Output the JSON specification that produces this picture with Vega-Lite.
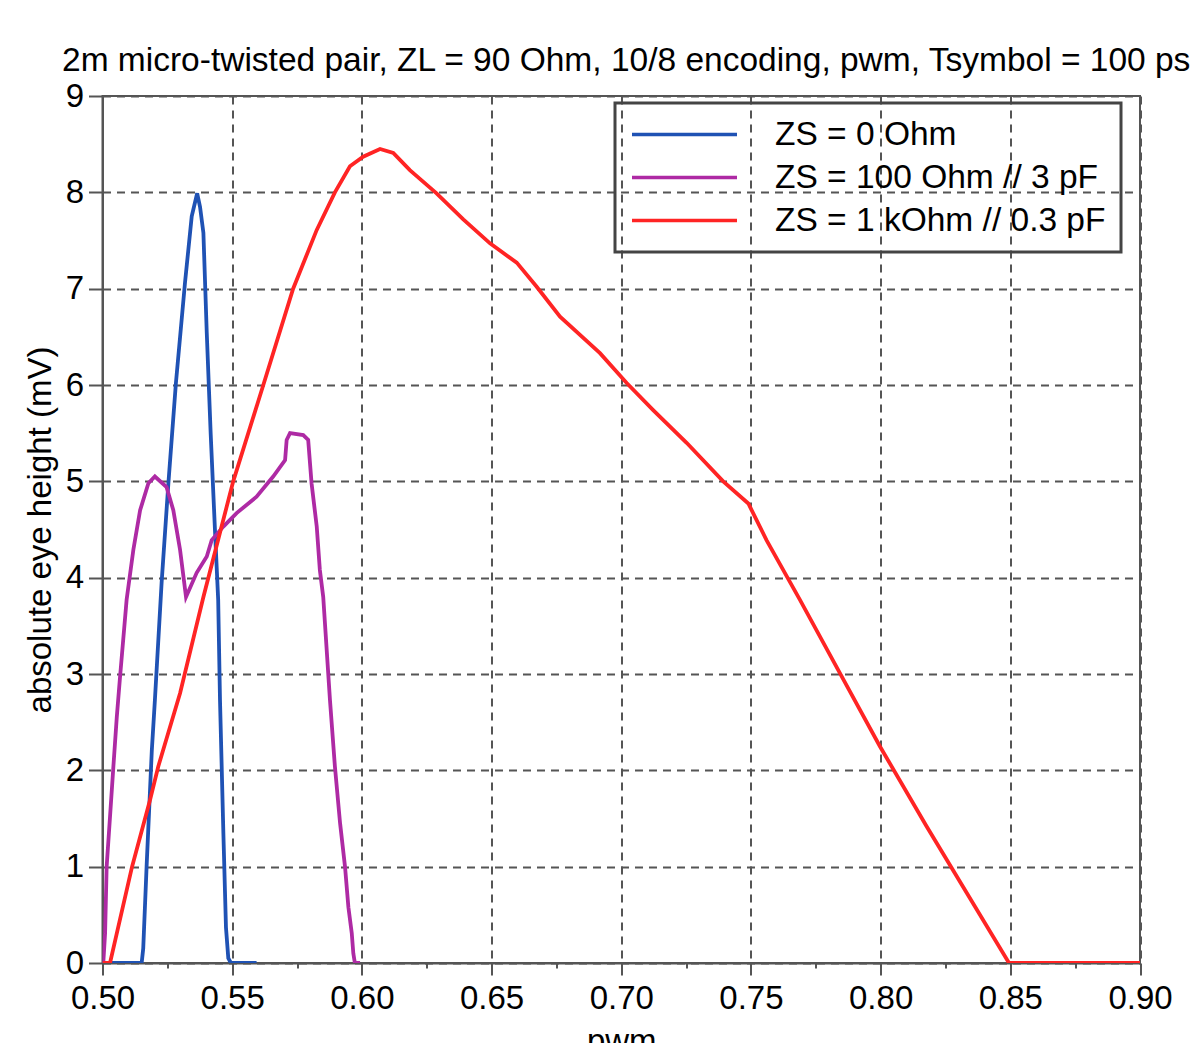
{
  "$schema": "https://vega.github.io/schema/vega-lite/v6.json",
  "width": 1037.5,
  "height": 867,
  "autosize": {"type": "none"},
  "padding": {"left": 102.5, "top": 96, "right": 56, "bottom": 80},
  "background": "white",
  "title": {
    "text": "2m micro-twisted pair, ZL = 90 Ohm, 10/8 encoding, pwm, Tsymbol = 100 ps",
    "anchor": "start",
    "frame": "group",
    "dx": -40.5,
    "offset": 2,
    "font": "Liberation Sans",
    "fontSize": 33.5,
    "fontWeight": "normal",
    "color": "#000"
  },
  "config": {
    "view": {"stroke": "#555", "strokeWidth": 2},
    "axis": {
      "domainColor": "#555",
      "domainWidth": 2,
      "tickColor": "#555",
      "tickWidth": 2,
      "gridColor": "#555",
      "gridWidth": 2,
      "gridDash": [8, 6],
      "labelFont": "Liberation Sans",
      "labelFontSize": 33,
      "labelColor": "#000",
      "titleFont": "Liberation Sans",
      "titleFontSize": 33,
      "titleFontWeight": "normal",
      "titleColor": "#000",
      "labelOverlap": false,
      "labelFlush": false
    }
  },
  "data": {
    "values": [
      {"s": "ZS = 0 Ohm", "pwm": 0.5, "h": 0},
      {"s": "ZS = 0 Ohm", "pwm": 0.5151, "h": 0},
      {"s": "ZS = 0 Ohm", "pwm": 0.5157, "h": 0.15},
      {"s": "ZS = 0 Ohm", "pwm": 0.517, "h": 1.0},
      {"s": "ZS = 0 Ohm", "pwm": 0.519, "h": 2.2},
      {"s": "ZS = 0 Ohm", "pwm": 0.5202, "h": 2.73},
      {"s": "ZS = 0 Ohm", "pwm": 0.5228, "h": 3.95},
      {"s": "ZS = 0 Ohm", "pwm": 0.5254, "h": 4.98},
      {"s": "ZS = 0 Ohm", "pwm": 0.5283, "h": 6.02},
      {"s": "ZS = 0 Ohm", "pwm": 0.5318, "h": 7.06},
      {"s": "ZS = 0 Ohm", "pwm": 0.5344, "h": 7.75},
      {"s": "ZS = 0 Ohm", "pwm": 0.5365, "h": 7.99},
      {"s": "ZS = 0 Ohm", "pwm": 0.5376, "h": 7.85},
      {"s": "ZS = 0 Ohm", "pwm": 0.5389, "h": 7.58},
      {"s": "ZS = 0 Ohm", "pwm": 0.5402, "h": 6.54},
      {"s": "ZS = 0 Ohm", "pwm": 0.5417, "h": 5.5},
      {"s": "ZS = 0 Ohm", "pwm": 0.5434, "h": 4.47},
      {"s": "ZS = 0 Ohm", "pwm": 0.5446, "h": 3.77},
      {"s": "ZS = 0 Ohm", "pwm": 0.5453, "h": 2.73},
      {"s": "ZS = 0 Ohm", "pwm": 0.5466, "h": 1.35},
      {"s": "ZS = 0 Ohm", "pwm": 0.5476, "h": 0.37},
      {"s": "ZS = 0 Ohm", "pwm": 0.5485, "h": 0.05},
      {"s": "ZS = 0 Ohm", "pwm": 0.5495, "h": 0},
      {"s": "ZS = 0 Ohm", "pwm": 0.5594, "h": 0},
      {"s": "ZS = 100 Ohm // 3 pF", "pwm": 0.5, "h": 0},
      {"s": "ZS = 100 Ohm // 3 pF", "pwm": 0.5003, "h": 0},
      {"s": "ZS = 100 Ohm // 3 pF", "pwm": 0.501, "h": 0.31},
      {"s": "ZS = 100 Ohm // 3 pF", "pwm": 0.5016, "h": 1.0},
      {"s": "ZS = 100 Ohm // 3 pF", "pwm": 0.5029, "h": 1.52},
      {"s": "ZS = 100 Ohm // 3 pF", "pwm": 0.5042, "h": 2.04},
      {"s": "ZS = 100 Ohm // 3 pF", "pwm": 0.5055, "h": 2.55},
      {"s": "ZS = 100 Ohm // 3 pF", "pwm": 0.5067, "h": 2.95},
      {"s": "ZS = 100 Ohm // 3 pF", "pwm": 0.5093, "h": 3.77},
      {"s": "ZS = 100 Ohm // 3 pF", "pwm": 0.5119, "h": 4.29},
      {"s": "ZS = 100 Ohm // 3 pF", "pwm": 0.5145, "h": 4.7},
      {"s": "ZS = 100 Ohm // 3 pF", "pwm": 0.5177, "h": 4.98},
      {"s": "ZS = 100 Ohm // 3 pF", "pwm": 0.5202, "h": 5.05},
      {"s": "ZS = 100 Ohm // 3 pF", "pwm": 0.5247, "h": 4.94},
      {"s": "ZS = 100 Ohm // 3 pF", "pwm": 0.5273, "h": 4.7},
      {"s": "ZS = 100 Ohm // 3 pF", "pwm": 0.5299, "h": 4.29},
      {"s": "ZS = 100 Ohm // 3 pF", "pwm": 0.5322, "h": 3.8},
      {"s": "ZS = 100 Ohm // 3 pF", "pwm": 0.5363, "h": 4.05},
      {"s": "ZS = 100 Ohm // 3 pF", "pwm": 0.5402, "h": 4.22},
      {"s": "ZS = 100 Ohm // 3 pF", "pwm": 0.5421, "h": 4.39},
      {"s": "ZS = 100 Ohm // 3 pF", "pwm": 0.5466, "h": 4.53},
      {"s": "ZS = 100 Ohm // 3 pF", "pwm": 0.5517, "h": 4.67},
      {"s": "ZS = 100 Ohm // 3 pF", "pwm": 0.5594, "h": 4.84},
      {"s": "ZS = 100 Ohm // 3 pF", "pwm": 0.5658, "h": 5.05},
      {"s": "ZS = 100 Ohm // 3 pF", "pwm": 0.5704, "h": 5.22},
      {"s": "ZS = 100 Ohm // 3 pF", "pwm": 0.571, "h": 5.43},
      {"s": "ZS = 100 Ohm // 3 pF", "pwm": 0.5723, "h": 5.5},
      {"s": "ZS = 100 Ohm // 3 pF", "pwm": 0.5774, "h": 5.48},
      {"s": "ZS = 100 Ohm // 3 pF", "pwm": 0.5793, "h": 5.43},
      {"s": "ZS = 100 Ohm // 3 pF", "pwm": 0.5806, "h": 4.98},
      {"s": "ZS = 100 Ohm // 3 pF", "pwm": 0.5826, "h": 4.53},
      {"s": "ZS = 100 Ohm // 3 pF", "pwm": 0.5838, "h": 4.08},
      {"s": "ZS = 100 Ohm // 3 pF", "pwm": 0.5851, "h": 3.8},
      {"s": "ZS = 100 Ohm // 3 pF", "pwm": 0.5877, "h": 2.73},
      {"s": "ZS = 100 Ohm // 3 pF", "pwm": 0.5896, "h": 2.04},
      {"s": "ZS = 100 Ohm // 3 pF", "pwm": 0.5916, "h": 1.45},
      {"s": "ZS = 100 Ohm // 3 pF", "pwm": 0.5935, "h": 1.0},
      {"s": "ZS = 100 Ohm // 3 pF", "pwm": 0.5948, "h": 0.58},
      {"s": "ZS = 100 Ohm // 3 pF", "pwm": 0.5961, "h": 0.31},
      {"s": "ZS = 100 Ohm // 3 pF", "pwm": 0.5967, "h": 0.1},
      {"s": "ZS = 100 Ohm // 3 pF", "pwm": 0.5973, "h": 0},
      {"s": "ZS = 100 Ohm // 3 pF", "pwm": 0.5993, "h": 0},
      {"s": "ZS = 1 kOhm // 0.3 pF", "pwm": 0.5, "h": 0},
      {"s": "ZS = 1 kOhm // 0.3 pF", "pwm": 0.5029, "h": 0},
      {"s": "ZS = 1 kOhm // 0.3 pF", "pwm": 0.5114, "h": 1.0},
      {"s": "ZS = 1 kOhm // 0.3 pF", "pwm": 0.5183, "h": 1.69},
      {"s": "ZS = 1 kOhm // 0.3 pF", "pwm": 0.5215, "h": 2.04},
      {"s": "ZS = 1 kOhm // 0.3 pF", "pwm": 0.5299, "h": 2.8},
      {"s": "ZS = 1 kOhm // 0.3 pF", "pwm": 0.5389, "h": 3.8},
      {"s": "ZS = 1 kOhm // 0.3 pF", "pwm": 0.5504, "h": 5.0},
      {"s": "ZS = 1 kOhm // 0.3 pF", "pwm": 0.562, "h": 6.0},
      {"s": "ZS = 1 kOhm // 0.3 pF", "pwm": 0.5735, "h": 7.0},
      {"s": "ZS = 1 kOhm // 0.3 pF", "pwm": 0.5826, "h": 7.61},
      {"s": "ZS = 1 kOhm // 0.3 pF", "pwm": 0.5896, "h": 8.0},
      {"s": "ZS = 1 kOhm // 0.3 pF", "pwm": 0.5954, "h": 8.27},
      {"s": "ZS = 1 kOhm // 0.3 pF", "pwm": 0.6005, "h": 8.37},
      {"s": "ZS = 1 kOhm // 0.3 pF", "pwm": 0.607, "h": 8.45},
      {"s": "ZS = 1 kOhm // 0.3 pF", "pwm": 0.6121, "h": 8.41},
      {"s": "ZS = 1 kOhm // 0.3 pF", "pwm": 0.6185, "h": 8.23},
      {"s": "ZS = 1 kOhm // 0.3 pF", "pwm": 0.6288, "h": 7.99},
      {"s": "ZS = 1 kOhm // 0.3 pF", "pwm": 0.6391, "h": 7.72},
      {"s": "ZS = 1 kOhm // 0.3 pF", "pwm": 0.6494, "h": 7.47},
      {"s": "ZS = 1 kOhm // 0.3 pF", "pwm": 0.6597, "h": 7.27},
      {"s": "ZS = 1 kOhm // 0.3 pF", "pwm": 0.6674, "h": 7.02},
      {"s": "ZS = 1 kOhm // 0.3 pF", "pwm": 0.6764, "h": 6.71},
      {"s": "ZS = 1 kOhm // 0.3 pF", "pwm": 0.6918, "h": 6.33},
      {"s": "ZS = 1 kOhm // 0.3 pF", "pwm": 0.7021, "h": 6.02},
      {"s": "ZS = 1 kOhm // 0.3 pF", "pwm": 0.7123, "h": 5.74},
      {"s": "ZS = 1 kOhm // 0.3 pF", "pwm": 0.7252, "h": 5.4},
      {"s": "ZS = 1 kOhm // 0.3 pF", "pwm": 0.7393, "h": 5.0},
      {"s": "ZS = 1 kOhm // 0.3 pF", "pwm": 0.749, "h": 4.77},
      {"s": "ZS = 1 kOhm // 0.3 pF", "pwm": 0.756, "h": 4.39},
      {"s": "ZS = 1 kOhm // 0.3 pF", "pwm": 0.7689, "h": 3.77},
      {"s": "ZS = 1 kOhm // 0.3 pF", "pwm": 0.7843, "h": 3.01},
      {"s": "ZS = 1 kOhm // 0.3 pF", "pwm": 0.7997, "h": 2.25},
      {"s": "ZS = 1 kOhm // 0.3 pF", "pwm": 0.8177, "h": 1.42},
      {"s": "ZS = 1 kOhm // 0.3 pF", "pwm": 0.8495, "h": 0},
      {"s": "ZS = 1 kOhm // 0.3 pF", "pwm": 0.9, "h": 0}
    ]
  },
  "mark": {"type": "line", "strokeWidth": 3.8, "clip": true},
  "encoding": {
    "x": {
      "field": "pwm",
      "type": "quantitative",
      "scale": {"domain": [0.5, 0.9], "nice": false, "zero": false},
      "axis": {
        "title": "pwm",
        "values": [0.5, 0.525, 0.55, 0.575, 0.6, 0.625, 0.65, 0.675, 0.7, 0.725, 0.75, 0.775, 0.8, 0.825, 0.85, 0.875, 0.9],
        "format": ".2f",
        "labelExpr": "abs(round(datum.value*20) - datum.value*20) < 0.001 ? datum.label : ''",
        "tickSize": {"condition": {"test": "abs(round(datum.value*20) - datum.value*20) < 0.001", "value": 12}, "value": 5},
        "gridOpacity": {"condition": {"test": "abs(round(datum.value*20) - datum.value*20) < 0.001", "value": 1}, "value": 0},
        "labelPadding": 7,
        "titlePadding": 10
      }
    },
    "y": {
      "field": "h",
      "type": "quantitative",
      "scale": {"domain": [0, 9], "nice": false, "zero": false},
      "axis": {
        "title": "absolute eye height (mV)",
        "values": [0, 0.5, 1, 1.5, 2, 2.5, 3, 3.5, 4, 4.5, 5, 5.5, 6, 6.5, 7, 7.5, 8, 8.5, 9],
        "format": "d",
        "labelExpr": "datum.value % 1 === 0 ? datum.label : ''",
        "tickSize": {"condition": {"test": "datum.value % 1 === 0", "value": 14}, "value": 7},
        "gridOpacity": {"condition": {"test": "datum.value % 1 === 0", "value": 1}, "value": 0},
        "labelPadding": 5,
        "titlePadding": 8
      }
    },
    "color": {
      "field": "s",
      "type": "nominal",
      "scale": {
        "domain": ["ZS = 0 Ohm", "ZS = 100 Ohm // 3 pF", "ZS = 1 kOhm // 0.3 pF"],
        "range": ["#1f52b4", "#ae2aa4", "#ff2424"]
      },
      "legend": {
        "orient": "none",
        "legendX": 512.5,
        "legendY": 7,
        "title": null,
        "symbolType": "stroke",
        "symbolSize": 11025,
        "symbolStrokeWidth": 3.5,
        "clipHeight": 33,
        "labelFont": "Liberation Sans",
        "labelFontSize": 33.5,
        "labelColor": "#000",
        "labelOffset": 36,
        "labelLimit": 0,
        "rowPadding": 9,
        "padding": 15,
        "strokeColor": "#444",
        "encode": {"legend": {"update": {"strokeWidth": {"value": 3}}}}
      }
    }
  }
}
